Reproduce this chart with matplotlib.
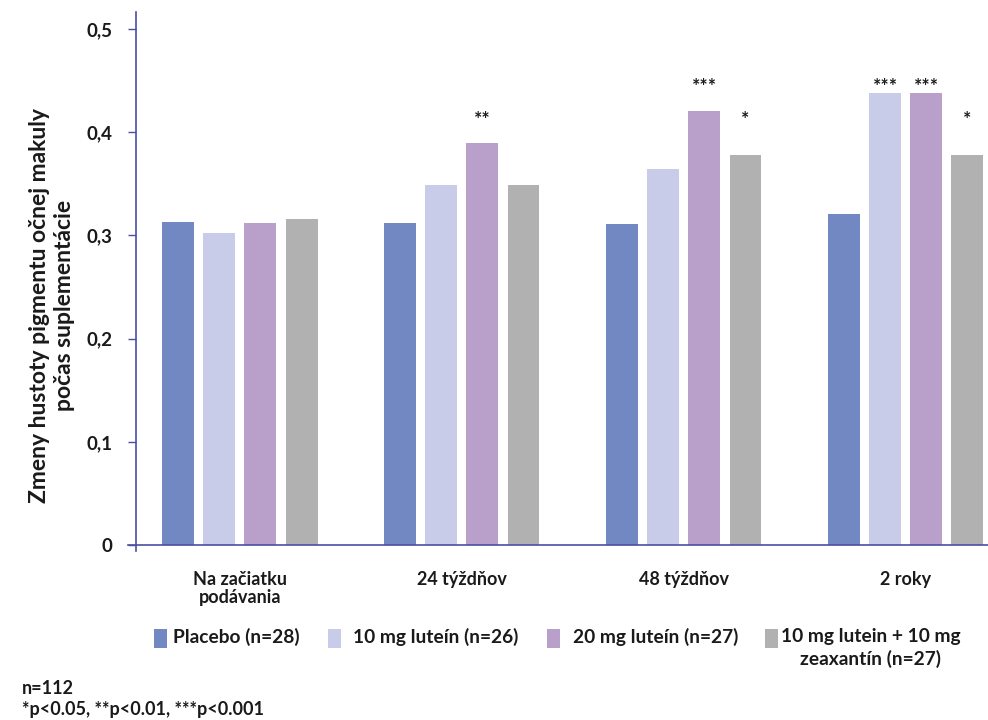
import numpy as np
import matplotlib
matplotlib.use("Agg")
import matplotlib.pyplot as plt
from matplotlib.patches import Rectangle

plt.rcParams['font.family'] = ['Lato', 'DejaVu Sans']
plt.rcParams['font.weight'] = 'bold'

# Dáta
kategorie = ['Na začiatku\npodávania', '24 týždňov', '48 týždňov', '2 roky']
skupiny = ['Placebo (n=28)', '10 mg luteín (n=26)', '20 mg luteín (n=27)',
           '10 mg lutein + 10 mg\nzeaxantín (n=27)']
placebo = [0.313, 0.312, 0.311, 0.321]
lutein10 = [0.302, 0.349, 0.364, 0.438]
lutein20 = [0.312, 0.389, 0.420, 0.438]
zeaxantin = [0.316, 0.349, 0.378, 0.378]
hviezdicky = [
    ['', '', '', ''],
    ['', '', '**', ''],
    ['', '', '***', '*'],
    ['', '***', '***', '*'],
]
y_ticks = [0, 0.1, 0.2, 0.3, 0.4, 0.5]
y_labels = ['0', '0,1', '0,2', '0,3', '0,4', '0,5']

farby = ['#7288c3', '#c8cce9', '#b8a0cb', '#b1b1b1']
farba_osi = '#4b4fa0'
txt = '#1a1a1a'

serie = [placebo, lutein10, lutein20, zeaxantin]

W, H = 988, 720
fig = plt.figure(figsize=(W / 100, H / 100), dpi=100)
ax = fig.add_axes([0.1377, 0.243, 0.8623, 0.74])

x = np.arange(len(kategorie))
sirka = 0.144
krok = 0.185
offs = (np.arange(4) - 1.5) * krok

for i, (hodnoty, farba) in enumerate(zip(serie, farby)):
    ax.bar(x + offs[i], hodnoty, width=sirka, color=farba, label=skupiny[i], zorder=2)

# hviezdicky nad stlpcami (*** vyssie, * a ** nizsie)
urovne = {'*': 0.412, '**': 0.412, '***': 0.444}
for g in range(len(kategorie)):
    for i in range(4):
        s = hviezdicky[g][i]
        if s:
            ax.text(x[g] + offs[i], urovne[s], s, ha='center', va='center',
                    fontsize=14, fontweight='bold', color=txt)

ax.set_xlim(-0.468, 3.37)
ax.set_ylim(0, 0.516)

ax.set_yticks(y_ticks)
ax.set_yticklabels(y_labels, fontsize=13.5, fontweight='bold', color=txt)
ax.set_xticks(x)
ax.set_xticklabels(kategorie, fontsize=13, fontweight='bold', color=txt, linespacing=1.05)
ax.tick_params(axis='x', length=0, pad=19)
ax.tick_params(axis='y', length=6, width=1, color=farba_osi, pad=11, direction='out')

for s in ['top', 'right']:
    ax.spines[s].set_visible(False)
ax.spines['left'].set_color(farba_osi)
ax.spines['bottom'].set_color(farba_osi)
ax.spines['left'].set_linewidth(1.2)
ax.spines['bottom'].set_linewidth(1.2)
ax.spines['left'].set_bounds(-0.006, 0.516)
ax.spines['bottom'].set_bounds(-0.504, 3.37)

fig.text(52 / W, 1 - 305 / H, 'Zmeny hustoty pigmentu očnej makuly\npočas suplementácie',
         rotation=90, ha='center', va='center', multialignment='center',
         fontsize=16.5, fontweight='bold', color=txt, linespacing=1.2)

# legenda
leg_box = [154, 328, 547, 765]
leg_txt = [173, 353, 573, 781]
for i in range(4):
    fig.patches.append(Rectangle((leg_box[i] / W, 1 - 648 / H), 13 / W, 19 / H,
                                 transform=fig.transFigure, facecolor=farby[i],
                                 edgecolor='none'))
    fig.text(leg_txt[i] / W, 1 - 628 / H, skupiny[i], ha='left', va='top',
             multialignment='center', fontsize=13.8, fontweight='bold', color=txt,
             linespacing=1.3)

fig.text(22 / W, 1 - 688 / H, 'n=112', fontsize=13, fontweight='bold', color=txt, va='center')
fig.text(22 / W, 1 - 709 / H, '*p<0.05, **p<0.01, ***p<0.001', fontsize=13,
         fontweight='bold', color=txt, va='center')

fig.savefig('out.png', dpi=100)
